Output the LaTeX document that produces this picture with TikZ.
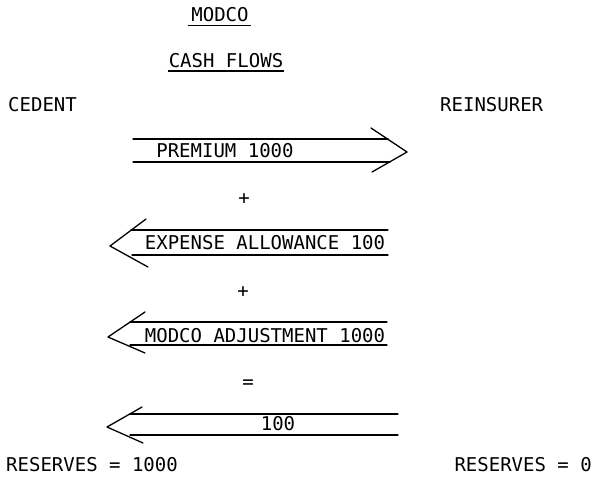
\documentclass[tikz,border=0pt]{standalone}
\usepackage{fontspec}
\setmonofont{DejaVu Sans Mono}
\tikzset{
  lbl/.style={font=\ttfamily\fontsize{19}{21}\selectfont, inner sep=0pt, text height=13.8pt, text depth=0pt},
  flow/.style={line width=1.3pt, line cap=round, line join=round},
  uline/.style={line width=1.3pt},
}
\begin{document}
\begin{tikzpicture}[x=1pt,y=-1pt]
\useasboundingbox (0,0) rectangle (604,481);
% titles
\node[lbl] (modco) at (220,15) {MODCO};
\draw[uline] ([xshift=-3pt,yshift=-3.5pt]modco.south west) -- ([xshift=2pt,yshift=-3.5pt]modco.south east);
\node[lbl] (cash) at (226,61) {CASH FLOWS};
\draw[uline] ([xshift=-1pt,yshift=-3pt]cash.south west) -- ([xshift=1pt,yshift=-3pt]cash.south east);
\node[lbl, anchor=west] (cedent) at (8,105) {CEDENT};
\node[lbl, anchor=west] (reins) at (440,105) {REINSURER};
% arrow 1: premium (right)
\coordinate (a1l) at (133,139); \coordinate (a1r) at (388,139);
\coordinate (b1l) at (133,162); \coordinate (b1r) at (390,162);
\coordinate (h1a) at (371,128); \coordinate (h1t) at (407,152); \coordinate (h1b) at (372,172);
\draw[flow] (a1l) -- (a1r);
\draw[flow] (b1l) -- (b1r);
\draw[flow] (h1a) -- (h1t) -- (h1b);
\node[lbl] (prem) at (225,151) {PREMIUM 1000};
\node[lbl] (plus1) at (244,198) {+};
% arrow 2: expense allowance (left)
\coordinate (a2l) at (131,230); \coordinate (a2r) at (388,230);
\coordinate (b2l) at (132,255); \coordinate (b2r) at (388,255);
\coordinate (h2a) at (146,219); \coordinate (h2t) at (110,246); \coordinate (h2b) at (148,267);
\draw[flow] (a2l) -- (a2r);
\draw[flow] (b2l) -- (b2r);
\draw[flow] (h2a) -- (h2t) -- (h2b);
\node[lbl] (exp) at (265,243) {EXPENSE ALLOWANCE 100};
\node[lbl] (plus2) at (243,291) {+};
% arrow 3: modco adjustment (left)
\coordinate (a3l) at (130,322); \coordinate (a3r) at (387,322);
\coordinate (b3l) at (130,345); \coordinate (b3r) at (387,345);
\coordinate (h3a) at (145,312); \coordinate (h3t) at (108,337); \coordinate (h3b) at (145,353);
\draw[flow] (a3l) -- (a3r);
\draw[flow] (b3l) -- (b3r);
\draw[flow] (h3a) -- (h3t) -- (h3b);
\node[lbl] (adj) at (265,336) {MODCO ADJUSTMENT 1000};
\node[lbl] (eq) at (248,382) {=};
% arrow 4: net 100 (left)
\coordinate (a4l) at (130,414); \coordinate (a4r) at (398,414);
\coordinate (b4l) at (130,435); \coordinate (b4r) at (398,435);
\coordinate (h4a) at (142,407); \coordinate (h4t) at (107,427); \coordinate (h4b) at (143,443);
\draw[flow] (a4l) -- (a4r);
\draw[flow] (b4l) -- (b4r);
\draw[flow] (h4a) -- (h4t) -- (h4b);
\node[lbl] (net) at (278,424) {100};
% reserves
\node[lbl, anchor=west] (resc) at (6,465) {RESERVES = 1000};
\node[lbl, anchor=east] (resr) at (592,465) {RESERVES = 0};
\end{tikzpicture}
\end{document}
